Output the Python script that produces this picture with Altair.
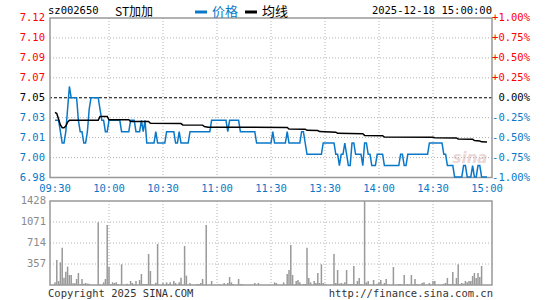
import altair as alt
import pandas as pd

# ---------------- data ----------------
symbol = "sz002650"
name = "ST加加"
timestamp = "2025-12-18 15:00:00"
legend_names = ["价格", "均线"]
prev_close = 7.05

price_grid = [7.1205, 7.1029, 7.0852, 7.0676, 7.05, 7.0324, 7.0148, 6.9971, 6.9795]
price_labels = ["7.12", "7.10", "7.09", "7.07", "7.05", "7.03", "7.01", "7.00", "6.98"]
pct_labels = ["+1.00%", "+0.75%", "+0.50%", "+0.25%", "0.00%", "-0.25%", "-0.50%", "-0.75%", "-1.00%"]
time_ticks = [0, 30, 60, 90, 120, 150, 180, 210, 240]
time_labels = ["09:30", "10:00", "10:30", "11:00", "11:30", "13:30", "14:00", "14:30", "15:00"]
vol_grid = [1428, 1071, 714, 357]
vol_max = 1428

# price: minute at which each level starts, and the level
price_start = [0, 3, 4, 6, 7, 8, 9, 13, 14, 16, 18, 19, 20, 25, 26, 28, 30, 37, 42, 45,
               48, 49, 50, 51, 56, 57, 62, 67, 69, 70, 75, 87, 96, 97, 103, 112, 121, 122,
               129, 130, 137, 139, 140, 149, 156, 158, 159, 161, 162, 163, 165, 167, 171,
               172, 174, 176, 179, 183, 192, 194, 196, 208, 216, 218, 222, 227, 229, 232,
               233, 235, 237]
price_level = [7.03, 7.02, 7.01, 7.02, 7.04, 7.06, 7.05, 7.03, 7.02, 7.01, 7.02, 7.04, 7.05,
               7.04, 7.03, 7.02, 7.03, 7.02, 7.03, 7.02, 7.03, 7.02, 7.03, 7.01, 7.02, 7.01,
               7.02, 7.01, 7.02, 7.01, 7.02, 7.03, 7.02, 7.03, 7.02, 7.01, 7.02, 7.01, 7.02,
               7.01, 7.02, 7.01, 7.00, 7.01, 7.00, 6.99, 7.00, 7.01, 7.00, 6.99, 7.01, 7.00,
               6.99, 7.01, 7.00, 6.99, 7.00, 6.99, 7.00, 6.99, 7.00, 7.01, 7.00, 6.99, 6.98,
               6.99, 6.98, 6.99, 6.98, 6.99, 6.98]

avg_minute = [0, 1, 2, 3, 4, 5, 6, 7, 8, 24, 25, 29, 30, 41, 42, 52, 53, 70, 71, 82, 83, 85,
              129, 130, 139, 140, 146, 147, 156, 157, 171, 172, 182, 183, 210, 211, 223, 224,
              232, 233, 236, 237, 240]
avg_value = [7.037, 7.036, 7.031, 7.026, 7.0235, 7.0235, 7.025, 7.0285, 7.0300, 7.0300,
             7.0335, 7.0335, 7.0305, 7.0305, 7.0290, 7.0290, 7.0275, 7.0272, 7.0260, 7.0258,
             7.0245, 7.0240, 7.0237, 7.0224, 7.0222, 7.0212, 7.0210, 7.0201, 7.0196, 7.0186,
             7.0182, 7.0167, 7.0165, 7.0152, 7.0150, 7.0147, 7.0145, 7.0136, 7.0134, 7.0121,
             7.0118, 7.0110, 7.0108]

vol_minute = [0, 1, 2, 3, 4, 5, 6, 7, 8, 9, 10, 11, 12, 13, 14, 15, 16, 17, 18, 19, 24, 25,
              27, 28, 29, 30, 31, 32, 33, 34, 35, 37, 40, 42, 43, 45, 47, 48, 49, 50, 51, 52,
              53, 56, 57, 60, 62, 63, 64, 66, 67, 69, 70, 72, 73, 75, 79, 80, 81, 82, 84, 87,
              91, 94, 96, 97, 98, 99, 102, 103, 104, 111, 113, 122, 123, 127, 129, 130, 131,
              132, 134, 135, 136, 138, 139, 140, 141, 142, 144, 145, 146, 147, 148, 149, 150,
              155, 156, 157, 158, 159, 160, 161, 162, 163, 164, 165, 166, 167, 168, 169, 170,
              172, 173, 174, 177, 179, 180, 181, 183, 184, 188, 191, 192, 194, 196, 198, 200,
              201, 204, 205, 208, 210, 211, 216, 217, 218, 219, 220, 221, 222, 223, 224, 225,
              226, 227, 228, 229, 230, 231, 232, 233, 234, 235, 236, 237]
vol_value = [45, 425, 68, 385, 635, 125, 227, 312, 170, 170, 28, 28, 102, 204, 11, 102, 23, 34,
             23, 23, 1065, 11, 45, 102, 1020, 312, 11, 45, 34, 45, 17, 351, 23, 68, 34, 68, 85,
             187, 17, 17, 17, 527, 238, 40, 697, 34, 45, 17, 45, 68, 34, 45, 125, 663, 159, 34,
             17, 17, 34, 102, 1020, 68, 11, 34, 34, 136, 45, 17, 102, 17, 17, 34, 34, 45, 34,
             45, 187, 255, 680, 170, 68, 85, 45, 17, 17, 635, 119, 45, 68, 34, 204, 34, 351,
             34, 23, 527, 34, 255, 23, 34, 23, 45, 255, 17, 17, 17, 323, 17, 68, 119, 17, 1428,
             45, 68, 85, 23, 45, 85, 34, 102, 306, 17, 17, 170, 17, 170, 102, 17, 34, 45, 34,
             68, 68, 23, 34, 119, 17, 17, 221, 17, 119, 351, 17, 34, 23, 68, 45, 68, 68, 153,
             204, 119, 204, 136, 323]

# ---------------- styling ----------------
W, H = 442, 267
PRICE_RANGE = [159.5, 0]
VOL_RANGE = [267, 183]
BLUE = "#0a78c8"
RED = "#ff0000"
GRAY = "#999999"
GRID = "#b4b4b4"
MONO = "DejaVu Sans Mono"
CJK = "Noto Sans CJK SC"

# ---------------- tables ----------------
minutes_all = []
prices_all = []
for i, s in enumerate(price_start):
    e = price_start[i + 1] if i + 1 < len(price_start) else 241
    for m in range(s, e):
        minutes_all.append(m)
        prices_all.append(price_level[i])
price_df = pd.DataFrame({"minute": minutes_all, "price": prices_all})
avg_df = pd.DataFrame({"minute": avg_minute, "price": avg_value})
vol_df = pd.DataFrame({"minute": vol_minute, "vol": vol_value})


def tone(p):
    if abs(p - prev_close) < 1e-9:
        return "#000000"
    return RED if p > prev_close else BLUE


axis_df = pd.DataFrame({
    "price": price_grid,
    "plabel": price_labels,
    "pct": pct_labels,
    "col": [tone(p) for p in price_grid],
})
hgrid_df = pd.DataFrame({"price": [p for p in price_grid[1:-1] if abs(p - prev_close) > 1e-9]})
vgrid_df = pd.DataFrame({"minute": time_ticks[1:-1],
                         "ptop": price_grid[0], "pbot": price_grid[-1],
                         "vtop": vol_max, "vbot": 0})
time_df = pd.DataFrame({"minute": time_ticks, "label": time_labels})
vlab_df = pd.DataFrame({"vol": vol_grid, "label": [str(v) for v in vol_grid]})
vhgrid_df = pd.DataFrame({"vol": vol_grid[1:]})
frame_df = pd.DataFrame({"ptop": [price_grid[0]], "pbot": [price_grid[-1]],
                         "vtop": [vol_max], "vbot": [0]})
prev_df = pd.DataFrame({"price": [prev_close]})

xs = alt.Scale(domain=[0, 240], range=[0, W], nice=False, zero=False)
ps = alt.Scale(domain=[price_grid[-1], price_grid[0]], range=PRICE_RANGE, nice=False, zero=False)
vs = alt.Scale(domain=[0, vol_max], range=VOL_RANGE, nice=False, zero=False)

X = alt.X("minute:Q", scale=xs, axis=None)
YP = alt.Y("price:Q", scale=ps, axis=None)

layers = []

# price panel grid
layers.append(alt.Chart(hgrid_df).mark_rule(color=GRID, strokeDash=[1, 2], strokeWidth=1)
              .encode(y=YP))
layers.append(alt.Chart(vgrid_df).mark_rule(color=GRID, strokeDash=[1, 2], strokeWidth=1)
              .encode(x=X, y=alt.Y("ptop:Q", scale=ps, axis=None), y2="pbot:Q"))
# volume panel grid
layers.append(alt.Chart(vhgrid_df).mark_rule(color=GRID, strokeDash=[1, 2], strokeWidth=1)
              .encode(y=alt.Y("vol:Q", scale=vs, axis=None)))
layers.append(alt.Chart(vgrid_df).mark_rule(color=GRID, strokeDash=[1, 2], strokeWidth=1)
              .encode(x=X, y=alt.Y("vtop:Q", scale=vs, axis=None), y2="vbot:Q"))
# previous close line
layers.append(alt.Chart(prev_df).mark_rule(color="#000000", strokeDash=[3, 2], strokeWidth=1)
              .encode(y=YP))
# volume bars
layers.append(alt.Chart(vol_df).mark_bar(color=GRAY, width=1.5)
              .encode(x=X, y=alt.Y("vol:Q", scale=vs, axis=None)))
# frames
layers.append(alt.Chart(frame_df).mark_rect(fillOpacity=0, stroke=GRAY, strokeWidth=1.5)
              .encode(x=alt.value(0), x2=alt.value(W),
                      y=alt.Y("ptop:Q", scale=ps, axis=None), y2="pbot:Q"))
layers.append(alt.Chart(frame_df).mark_rect(fillOpacity=0, stroke=GRAY, strokeWidth=1.5)
              .encode(x=alt.value(0), x2=alt.value(W),
                      y=alt.Y("vtop:Q", scale=vs, axis=None), y2="vbot:Q"))
# watermark
layers.append(alt.Chart(pd.DataFrame({"t": ["sina"]})).mark_text(
    font="DejaVu Sans", fontSize=15, fontWeight="bold", fontStyle="italic",
    color="#c98f8f", opacity=0.35, align="center", baseline="middle")
    .encode(text="t:N", x=alt.value(420), y=alt.value(140)))
# lines
layers.append(alt.Chart(price_df).mark_line(color=BLUE, strokeWidth=1.5)
              .encode(x=X, y=YP))
layers.append(alt.Chart(avg_df).mark_line(color="#000000", strokeWidth=1.5)
              .encode(x=X, y=YP))

# axis labels
layers.append(alt.Chart(axis_df).mark_text(font=MONO, fontSize=10.5, align="right", baseline="middle")
              .encode(text="plabel:N", y=YP, x=alt.value(-5), color=alt.Color("col:N", scale=None)))
layers.append(alt.Chart(axis_df).mark_text(font=MONO, fontSize=10.5, align="right", baseline="middle")
              .encode(text="pct:N", y=YP, x=alt.value(W + 38), color=alt.Color("col:N", scale=None)))
layers.append(alt.Chart(time_df).mark_text(font=MONO, fontSize=10.5, align="center", baseline="middle",
                                           color=BLUE)
              .encode(text="label:N", x=X, y=alt.value(170.5)))
layers.append(alt.Chart(vlab_df).mark_text(font=MONO, fontSize=10.5, align="right", baseline="middle",
                                           color="#8a8a8a")
              .encode(text="label:N", y=alt.Y("vol:Q", scale=vs, axis=None), x=alt.value(-4)))

# header
layers.append(alt.Chart(pd.DataFrame({"t": [symbol]})).mark_text(
    font=MONO, fontSize=10.5, align="left", baseline="middle", color="#000000")
    .encode(text="t:N", x=alt.value(-2), y=alt.value(-7)))
layers.append(alt.Chart(pd.DataFrame({"t": [name]})).mark_text(
    font=CJK, fontSize=12, align="left", baseline="middle", color="#000000")
    .encode(text="t:N", x=alt.value(65), y=alt.value(-6)))
layers.append(alt.Chart(pd.DataFrame({"t": [timestamp]})).mark_text(
    font=MONO, fontSize=10.5, align="right", baseline="middle", color="#000000")
    .encode(text="t:N", x=alt.value(W), y=alt.value(-7)))
# legend
layers.append(alt.Chart(pd.DataFrame({"c": [BLUE]})).mark_rule(strokeWidth=3, color=BLUE)
              .encode(x=alt.value(145), x2=alt.value(157), y=alt.value(-6)))
layers.append(alt.Chart(pd.DataFrame({"t": [legend_names[0]]})).mark_text(
    font=CJK, fontSize=13, align="left", baseline="middle", color=BLUE)
    .encode(text="t:N", x=alt.value(162), y=alt.value(-6)))
layers.append(alt.Chart(pd.DataFrame({"c": ["k"]})).mark_rule(strokeWidth=3, color="#000000")
              .encode(x=alt.value(195), x2=alt.value(207), y=alt.value(-6)))
layers.append(alt.Chart(pd.DataFrame({"t": [legend_names[1]]})).mark_text(
    font=CJK, fontSize=13, align="left", baseline="middle", color="#000000")
    .encode(text="t:N", x=alt.value(212), y=alt.value(-6)))
# footer
layers.append(alt.Chart(pd.DataFrame({"t": ["Copyright 2025 SINA.COM"]})).mark_text(
    font=MONO, fontSize=10.5, align="left", baseline="middle", color="#333333")
    .encode(text="t:N", x=alt.value(-2), y=alt.value(275.5)))
layers.append(alt.Chart(pd.DataFrame({"t": ["http://finance.sina.com.cn"]})).mark_text(
    font=MONO, fontSize=10.5, align="right", baseline="middle", color="#333333")
    .encode(text="t:N", x=alt.value(W + 1), y=alt.value(275.5)))

chart = alt.layer(*layers).resolve_scale(y="independent").properties(
    width=W, height=H,
    autosize=alt.AutoSizeParams(type="none"),
    padding={"left": 50, "top": 18, "right": 53, "bottom": 15},
    background="#ffffff",
).configure_view(strokeWidth=0)

chart.save("out.html", embed_options={"renderer": "svg", "actions": False})
